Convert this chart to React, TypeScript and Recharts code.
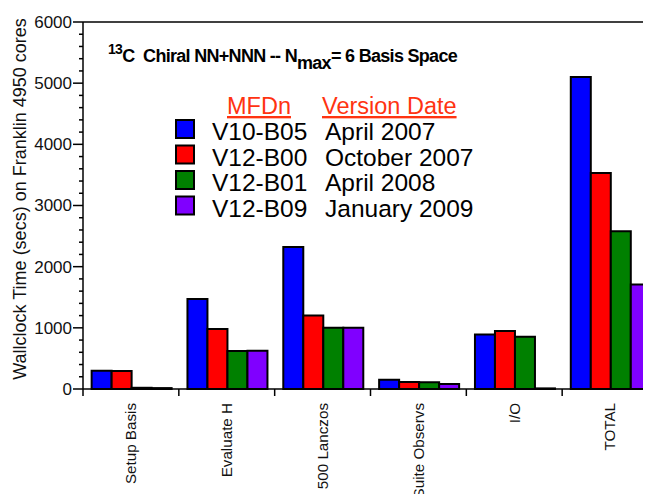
import React from "react";
import { BarChart, Bar, XAxis, YAxis, ReferenceLine, Legend } from "recharts";

const categories = ["Setup Basis", "Evaluate H", "500 Lanczos", "Suite Observs", "I/O", "TOTAL"];
const v10b05 = [300, 1470, 2320, 150, 890, 5100];
const v12b00 = [295, 980, 1200, 115, 950, 3530];
const v12b01 = [20, 620, 1000, 110, 855, 2580];
const v12b09 = [15, 625, 1000, 80, 10, 1710];

const versions = ["V10-B05", "V12-B00", "V12-B01", "V12-B09"];
const versionDates = ["April 2007", "October 2007", "April 2008", "January 2009"];
const colors = ["#0000ff", "#ff0000", "#008000", "#8000ff"];
const yMajorTicks = [0, 1000, 2000, 3000, 4000, 5000, 6000];

const seriesValues = [v10b05, v12b00, v12b01, v12b09];
const data = categories.map((name, i) => {
  const row: Record<string, string | number> = { name };
  versions.forEach((v, j) => {
    row[v] = seriesValues[j][i];
  });
  return row;
});

// minor ticks every 200 between the labelled ones
const yTicks: number[] = [];
for (let t = 0; t <= 6000; t += 200) yTicks.push(t);

const FONT = '"Liberation Sans", Arial, Helvetica, sans-serif';
const W = 660;
const H = 494;
const MARGIN = { top: 14, right: 10, bottom: 0, left: 0 };
const Y_W = 75;
const X_H = 113;
const BAND = (W - MARGIN.right - Y_W) / categories.length;

const YTick = (props: any) => {
  const { x, y, payload } = props;
  const major = yMajorTicks.includes(payload.value);
  return (
    <g>
      <line x1={x - (major ? 10 : 4)} x2={x} y1={y} y2={y} stroke="#000" strokeWidth={1.5} />
      {major && (
        <text x={x - 11} y={y} dy="0.35em" textAnchor="end" fontSize={17} fontFamily={FONT} fill="#111">
          {payload.value}
        </text>
      )}
    </g>
  );
};

const XTick = (props: any) => {
  const { x, y, payload } = props;
  const bx = x - BAND / 2;
  return (
    <g>
      <line x1={bx} x2={bx} y1={y} y2={y + 7} stroke="#000" strokeWidth={1.5} />
      <text
        x={x}
        y={y + 14}
        dy="0.35em"
        textAnchor="end"
        fontSize={15.2}
        fontFamily={FONT}
        fill="#111"
        transform={`rotate(-90 ${x} ${y + 14})`}
      >
        {payload.value}
      </text>
    </g>
  );
};

const LegendBox = () => (
  <svg width={643} height={240} style={{ position: "absolute", left: 0, top: 0, overflow: "visible" }}>
    <g fontFamily={FONT}>
      <text x={219} y={106} fontSize={23.5} fill="#ff3311" textDecoration="underline">
        MFDn
      </text>
      <text x={314} y={106} fontSize={23.5} fill="#ff3311" textDecoration="underline">
        Version Date
      </text>
      {versions.map((v, i) => {
        const base = 132 + i * 25.5;
        return (
          <g key={v}>
            <rect x={168} y={base - 20} width={18} height={18} fill={colors[i]} stroke="#000" strokeWidth={2} />
            <text x={204} y={base} fontSize={24.5} fill="#000">
              {v}
            </text>
            <text x={317} y={base} fontSize={24.5} fill="#000">
              {versionDates[i]}
            </text>
          </g>
        );
      })}
    </g>
  </svg>
);

const App = () => {
  return (
    <div style={{ position: "relative", width: 643, height: H, marginBottom: -8, overflow: "hidden" }}>
      <BarChart
        width={W}
        height={H}
        data={data}
        margin={MARGIN}
        barCategoryGap="9%"
        barGap={0}
      >
        <XAxis
          dataKey="name"
          height={X_H}
          interval={0}
          tickLine={false}
          tickSize={0}
          tickMargin={0}
          axisLine={{ stroke: "#000", strokeWidth: 1.5 }}
          tick={<XTick />}
        />
        <YAxis
          width={Y_W}
          domain={[0, 6000]}
          ticks={yTicks}
          interval={0}
          tickLine={false}
          tickSize={0}
          tickMargin={0}
          axisLine={{ stroke: "#000", strokeWidth: 1.5 }}
          tick={<YTick />}
          label={{
            content: () => (
              <text
                x={12}
                y={191}
                textAnchor="middle"
                dominantBaseline="central"
                fontSize={18}
                fontFamily={FONT}
                fill="#111"
                transform="rotate(-90 12 191)"
              >
                Wallclock Time (secs) on Franklin 4950 cores
              </text>
            ),
          }}
        />
        <ReferenceLine y={6000} stroke="#000" strokeWidth={1.5} />
        {versions.map((v, i) => (
          <Bar
            key={v}
            dataKey={v}
            fill={colors[i]}
            stroke="#000"
            strokeWidth={2}
            isAnimationActive={false}
          />
        ))}
        <Legend content={<LegendBox />} wrapperStyle={{ position: "absolute", left: 0, top: 0, width: 643, height: 0 }} />
      </BarChart>
      <svg width={643} height={90} style={{ position: "absolute", left: 0, top: 0 }}>
        <text
          x={100}
          y={54}
          fontFamily={FONT}
          fontWeight="bold"
          fontSize={18}
          letterSpacing={-0.7}
          fill="#000"
          style={{ whiteSpace: "pre" }}
        >
          <tspan fontSize={14} dy={-8}>13</tspan>
          <tspan dy={8}>{"C  Chiral NN+NNN -- N"}</tspan>
          <tspan dy={7}>max</tspan>
          <tspan dy={-7}>{"= 6 Basis Space"}</tspan>
        </text>
      </svg>
    </div>
  );
};

export default App;
